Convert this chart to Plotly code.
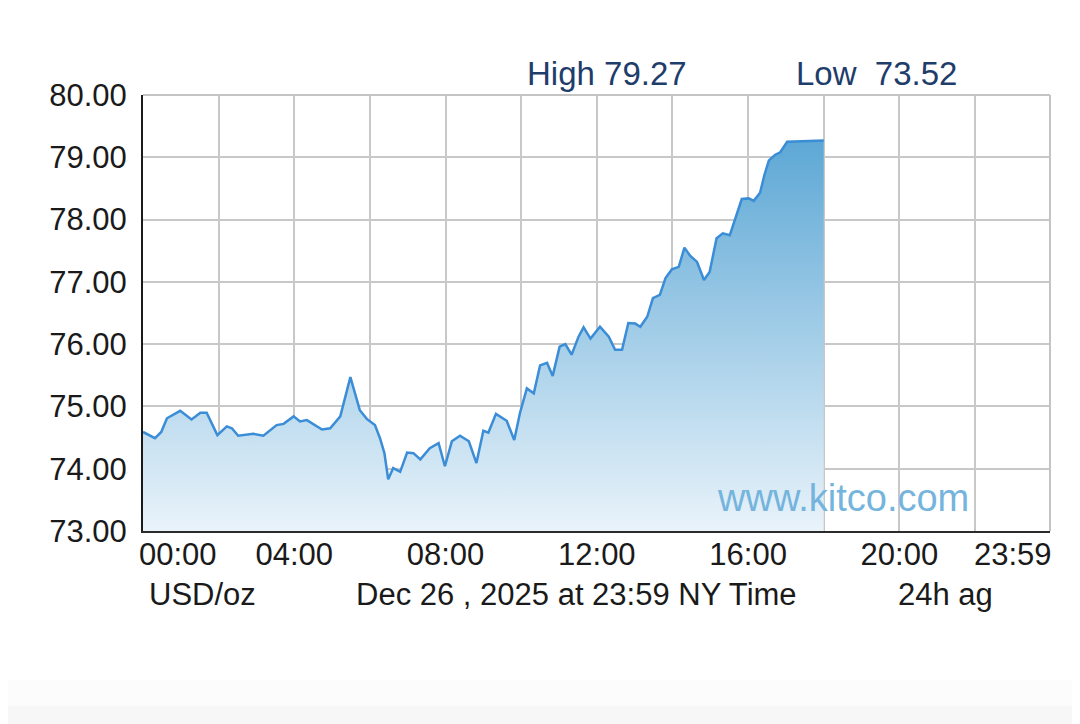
import plotly.graph_objects as go

# Silver spot, Dec 26 2025 (NY time)
DAY = "2025-12-26"
TIMES = [
    "00:00", "00:19", "00:29", "00:38", "00:59", "01:17", "01:31", "01:41",
    "01:58", "02:13", "02:21", "02:31", "02:55", "03:11", "03:32", "03:43",
    "03:59", "04:09", "04:20", "04:44", "04:57", "05:13", "05:29", "05:44",
    "05:55", "06:08", "06:16", "06:23", "06:29", "06:37", "06:48", "06:59",
    "07:09", "07:20", "07:35", "07:49", "07:59", "08:10", "08:23", "08:37",
    "08:49", "09:00", "09:08", "09:20", "09:37", "09:49", "09:58", "10:09",
    "10:20", "10:30", "10:41", "10:50", "11:01", "11:10", "11:20", "11:31",
    "11:39", "11:50", "12:05", "12:19", "12:29", "12:40", "12:50", "13:01",
    "13:09", "13:20", "13:29", "13:40", "13:49", "13:59", "14:10", "14:19",
    "14:28", "14:39", "14:50", "14:59", "15:10", "15:20", "15:31", "15:41",
    "15:50", "16:01", "16:09", "16:19", "16:26", "16:33", "16:43", "16:51",
    "17:02", "18:00",
]
PRICES = [
    74.59, 74.49, 74.59, 74.81, 74.93, 74.79, 74.90, 74.90,
    74.54, 74.68, 74.65, 74.53, 74.56, 74.53, 74.70, 74.72,
    74.84, 74.76, 74.78, 74.63, 74.65, 74.84, 75.47, 74.94,
    74.80, 74.70, 74.49, 74.25, 73.83, 74.01, 73.95, 74.26,
    74.25, 74.15, 74.33, 74.41, 74.04, 74.44, 74.53, 74.44,
    74.09, 74.61, 74.58, 74.88, 74.77, 74.46, 74.89, 75.29,
    75.21, 75.66, 75.70, 75.49, 75.96, 76.00, 75.83, 76.12,
    76.27, 76.09, 76.28, 76.12, 75.91, 75.91, 76.34, 76.33,
    76.28, 76.44, 76.74, 76.79, 77.06, 77.20, 77.24, 77.55,
    77.42, 77.32, 77.03, 77.16, 77.70, 77.78, 77.75, 78.07,
    78.33, 78.34, 78.30, 78.43, 78.72, 78.95, 79.04, 79.08,
    79.25, 79.27,
]
MAJOR_TICKS = ["04:00", "08:00", "12:00", "16:00", "20:00"]
HIGH = 79.27
LOW = 73.52

FONT = "Liberation Sans"
TEXT_COLOR = "#1a1a1a"

x_vals = [f"{DAY} {t}" for t in TIMES]

fig = go.Figure()

fig.add_trace(
    go.Scatter(
        x=x_vals,
        y=PRICES,
        mode="lines",
        line=dict(color="#3a8dd6", width=2.5),
        fill="tozeroy",
        fillgradient=dict(
            type="vertical",
            start=73,
            stop=80,
            colorscale=[[0, "#e9f3fa"], [1, "#4d9fd1"]],
        ),
        hoverinfo="skip",
        showlegend=False,
    )
)

# edge time labels sit inside the axis ends, so they're drawn separately
annotations = [
    dict(text=f"High {HIGH:.2f}", x=0.512, y=1.05,
         font=dict(color="#1f3d6b", size=33)),
    dict(text=f"Low  {LOW:.2f}", x=0.809, y=1.05,
         font=dict(color="#1f3d6b", size=33)),
    dict(text="00:00", x=-0.007, y=-0.055, xanchor="left"),
    dict(text="23:59", x=1.004, y=-0.055, xanchor="right"),
    dict(text="USD/oz", x=0.066, y=-0.145),
    dict(text="Dec 26 , 2025 at 23:59 NY Time", x=0.4785, y=-0.145),
    dict(text="24h ag", x=0.885, y=-0.145),
    dict(text="www.kitco.com", x=0.772, y=0.076,
         font=dict(color="#74b4dd", size=38)),
]
for a in annotations:
    a.setdefault("xanchor", "center")
    a.update(xref="paper", yref="paper", yanchor="middle", showarrow=False)
    f = dict(family=FONT, size=31, color=TEXT_COLOR)
    f.update(a.get("font", {}))
    a["font"] = f

# page body has an 8px margin, so the figure is 8px smaller than the window
fig.update_layout(
    width=1072,
    height=716,
    plot_bgcolor="white",
    paper_bgcolor="white",
    margin=dict(l=135, r=30, t=87, b=193),
    font=dict(family=FONT, size=31, color=TEXT_COLOR),
    annotations=annotations,
    shapes=[
        # top and right plot borders (grey)
        dict(type="line", xref="paper", yref="paper", x0=0, x1=1, y0=1, y1=1,
             line=dict(color="#c4c4c4", width=2)),
        dict(type="line", xref="paper", yref="paper", x0=1, x1=1, y0=0, y1=1,
             line=dict(color="#c4c4c4", width=2)),
        # very faint grey fade along the bottom of the page
        dict(type="rect", xref="paper", yref="paper", x0=-0.2, x1=1.1,
             y0=-0.40, y1=-0.342, fillcolor="#fcfcfc", line=dict(width=0),
             layer="below"),
        dict(type="rect", xref="paper", yref="paper", x0=-0.2, x1=1.1,
             y0=-0.45, y1=-0.40, fillcolor="#f7f7f7", line=dict(width=0),
             layer="below"),
    ],
    xaxis=dict(
        type="date",
        range=[f"{DAY} 00:00", f"{DAY} 23:59"],
        tickvals=[f"{DAY} {t}" for t in MAJOR_TICKS],
        ticktext=MAJOR_TICKS,
        ticks="",
        ticklabelstandoff=-5,
        showgrid=True,
        gridcolor="#c8c8c8",
        gridwidth=2,
        minor=dict(
            dtick=2 * 3600 * 1000,
            tick0=f"{DAY} 00:00",
            showgrid=True,
            gridcolor="#c8c8c8",
            gridwidth=2,
        ),
        showline=True,
        linecolor="#2b2b2b",
        linewidth=2,
        zeroline=False,
        fixedrange=True,
    ),
    yaxis=dict(
        range=[73, 80],
        dtick=1,
        tickformat=".2f",
        ticks="",
        ticklabelstandoff=8,
        showgrid=True,
        gridcolor="#c8c8c8",
        gridwidth=2,
        showline=True,
        linecolor="#1a1a1a",
        linewidth=2,
        zeroline=False,
        fixedrange=True,
    ),
)

fig.write_html("out.html")
